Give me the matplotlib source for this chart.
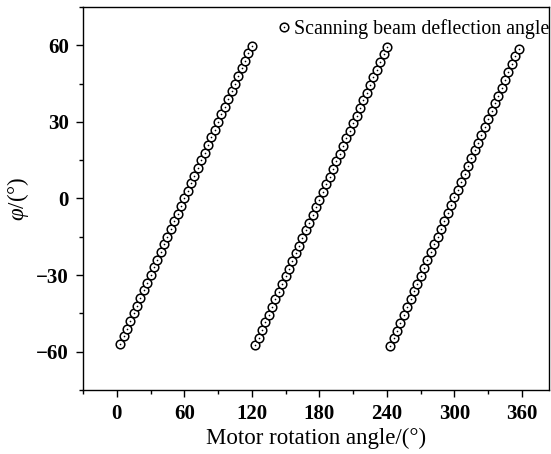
import matplotlib
matplotlib.use("Agg")
import matplotlib.pyplot as plt
from matplotlib.ticker import MultipleLocator

# Motor rotation angle (deg) and scanning beam deflection angle (deg), one list per facet sweep
motor_1 = [3, 6, 9, 12, 15, 18, 21, 24, 27, 30, 33, 36, 39, 42, 45, 48, 51, 54, 57, 60,
           63, 66, 69, 72, 75, 78, 81, 84, 87, 90, 93, 96, 99, 102, 105, 108, 111, 114, 117, 120]
phi_1 = [-57.0, -54.0, -51.0, -48.0, -45.0, -42.0, -39.0, -36.0, -33.0, -30.0,
         -27.0, -24.0, -21.0, -18.0, -15.0, -12.0, -9.0, -6.0, -3.0, 0.0,
         3.0, 6.0, 9.0, 12.0, 15.0, 18.0, 21.0, 24.0, 27.0, 30.0,
         33.0, 36.0, 39.0, 42.0, 45.0, 48.0, 51.0, 54.0, 57.0, 59.8]

motor_2 = [123, 126, 129, 132, 135, 138, 141, 144, 147, 150, 153, 156, 159, 162, 165, 168,
           171, 174, 177, 180, 183, 186, 189, 192, 195, 198, 201, 204, 207, 210, 213, 216,
           219, 222, 225, 228, 231, 234, 237, 240]
phi_2 = [-57.5, -54.5, -51.5, -48.5, -45.5, -42.5, -39.5, -36.5, -33.5, -30.5,
         -27.5, -24.5, -21.5, -18.5, -15.5, -12.5, -9.5, -6.5, -3.5, -0.5,
         2.5, 5.5, 8.5, 11.5, 14.5, 17.5, 20.5, 23.5, 26.5, 29.5,
         32.5, 35.5, 38.5, 41.5, 44.5, 47.5, 50.5, 53.5, 56.5, 59.2]

motor_3 = [243, 246, 249, 252, 255, 258, 261, 264, 267, 270, 273, 276, 279, 282, 285, 288,
           291, 294, 297, 300, 303, 306, 309, 312, 315, 318, 321, 324, 327, 330, 333, 336,
           339, 342, 345, 348, 351, 354, 357]
phi_3 = [-57.9, -54.8, -51.8, -48.7, -45.6, -42.6, -39.5, -36.4, -33.3, -30.3,
         -27.2, -24.1, -21.1, -18.0, -14.9, -11.9, -8.8, -5.7, -2.6, 0.4,
         3.5, 6.6, 9.6, 12.7, 15.8, 18.8, 21.9, 25.0, 28.1, 31.1,
         34.2, 37.3, 40.3, 43.4, 46.5, 49.5, 52.6, 55.7, 58.5]

x_ticks = [0, 60, 120, 180, 240, 300, 360]
y_ticks = [-60, -30, 0, 30, 60]

plt.rcParams["font.family"] = ["Liberation Serif", "DejaVu Serif"]
plt.rcParams["mathtext.fontset"] = "custom"
plt.rcParams["mathtext.it"] = "Liberation Serif:italic"
plt.rcParams["mathtext.rm"] = "Liberation Serif"

fig = plt.figure(figsize=(5.51, 4.54), dpi=100)
ax = fig.add_axes([0.1506, 0.141, 0.8458, 0.8436])

motor = motor_1 + motor_2 + motor_3
phi = phi_1 + phi_2 + phi_3

# open circles with a small centre dot
ring = ax.plot(motor, phi, linestyle="none", marker="o", markersize=6.2,
               markerfacecolor="white", markeredgecolor="black", markeredgewidth=1.1)[0]
dot = ax.plot(motor, phi, linestyle="none", marker="o", markersize=1.2,
              markerfacecolor="black", markeredgecolor="black", markeredgewidth=0)[0]

ax.set_xlim(-30, 384)
ax.set_ylim(-75, 75)
ax.set_xticks(x_ticks)
ax.set_yticks(y_ticks)
ax.set_yticklabels([f"\u2212{abs(v)}" if v < 0 else str(v) for v in y_ticks])
ax.xaxis.set_minor_locator(MultipleLocator(30))
ax.yaxis.set_minor_locator(MultipleLocator(15))
ax.tick_params(which="major", direction="out", length=5, width=1.0,
               labelsize=15, top=False, right=False, pad=5)
ax.tick_params(which="minor", direction="out", length=3, width=1.0, top=False, right=False)
for lab in ax.get_xticklabels() + ax.get_yticklabels():
    lab.set_fontweight("bold")
for s in ax.spines.values():
    s.set_linewidth(1.0)

ax.set_xlabel("Motor rotation angle/(\u00b0)", fontsize=16.5, labelpad=3)
ax.set_ylabel("$\\varphi$/(\u00b0)", fontsize=16.5, labelpad=4)

leg = ax.legend(handles=[(ring, dot)], labels=["Scanning beam deflection angle"],
                loc="upper right", bbox_to_anchor=(1.03, 1.004),
                frameon=False, fontsize=14.3, handlelength=0.8, handletextpad=0.1,
                borderaxespad=0.3)

fig.savefig("out.png", dpi=100)
